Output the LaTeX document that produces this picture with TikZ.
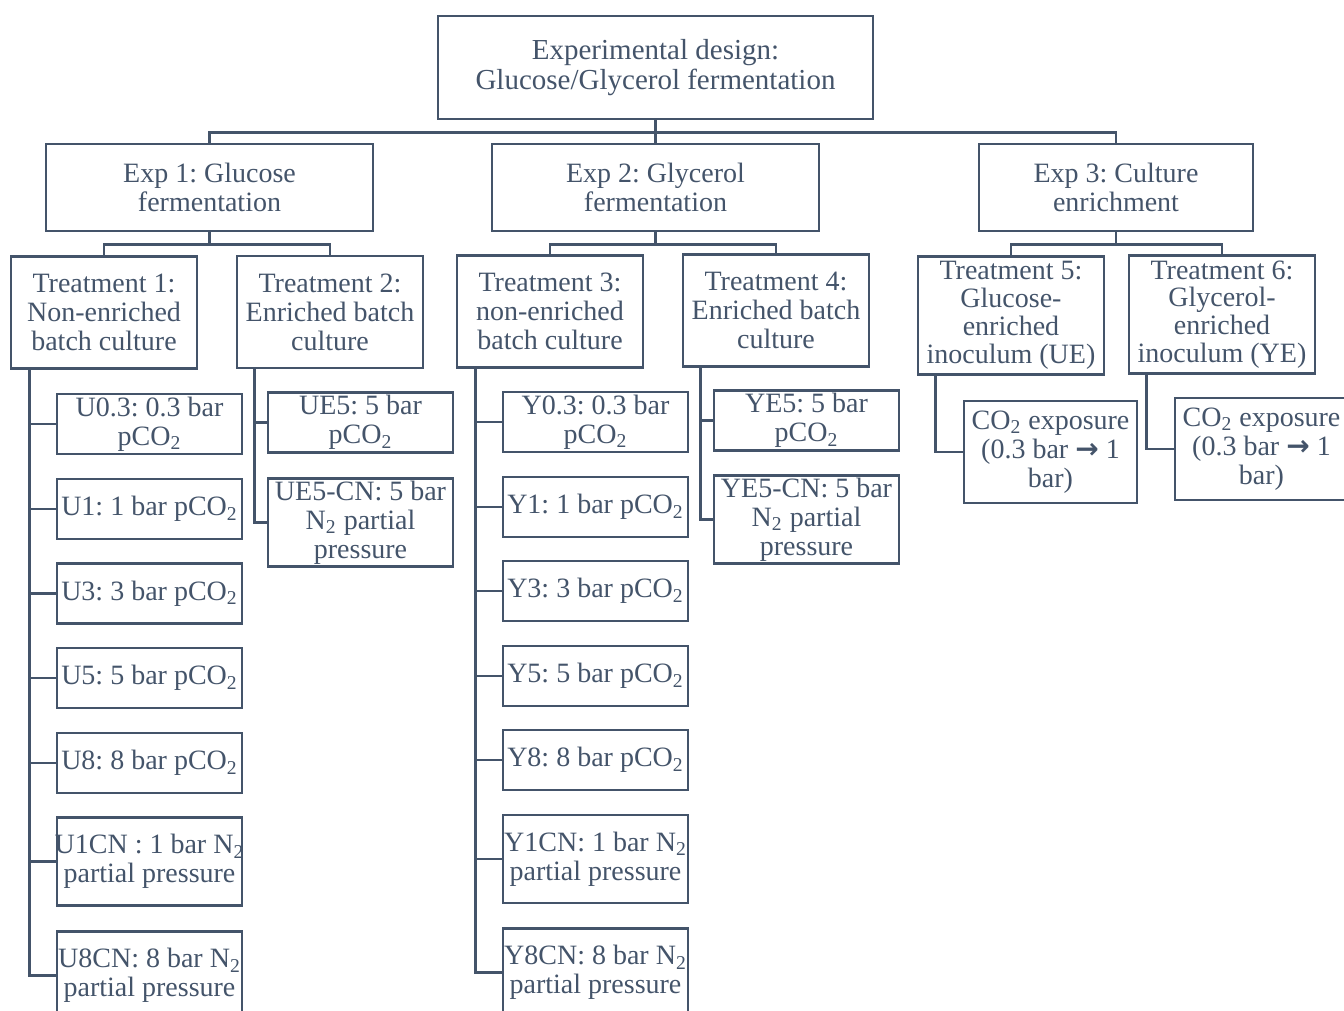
\documentclass[tikz,border=0pt]{standalone}
\usepackage{fontspec}
\setmainfont{Liberation Serif}
\newfontfamily\edarrowfont{DejaVu Sans}
\usepackage{tikz}
\usetikzlibrary{
  positioning,
  calc
}
\frenchspacing
\definecolor{edLine}{HTML}{44546A}
\newcommand{\sub}[1]{\textsubscript{#1}}
\newcommand{\edarrow}{{\edarrowfont\bfseries →}}
\tikzset{
  ednode/.style={
    draw=edLine, line width=1.4pt, text=edLine, align=center,
    inner xsep=-4pt, inner ysep=0pt,
    font=\fontsize{14pt}{14.5pt}\selectfont
  },
  topbox/.style={ednode, minimum width=217.5pt, minimum height=51.5pt,
    font=\fontsize{14.5pt}{15pt}\selectfont},
  expbox/.style={ednode, minimum width=163.5pt, minimum height=43.5pt},
  trtbox/.style={ednode, minimum width=93pt, minimum height=56pt},
  inocbox/.style={ednode, minimum width=93pt, minimum height=59pt, font=\fontsize{14pt}{13.9pt}\selectfont},
  leafbox/.style={ednode, minimum width=92.5pt, minimum height=30pt},
  leaftall/.style={ednode, minimum width=92.5pt, minimum height=44pt},
  expobox/.style={ednode, minimum width=86.5pt, minimum height=51pt},
  link/.style={draw=edLine, line width=1.4pt}
}
\begin{document}
\begin{tikzpicture}[x=0.5pt, y=-0.5pt]
  \useasboundingbox (0,0) rectangle (1344,1011);
  \clip (0,0) rectangle (1344,1011);

  \node[topbox] (design) at (655.5,67.5) {Experimental design:\\Glucose/Glycerol fermentation};

  \node[expbox] (exp1) at (209.5,187.5) {Exp 1: Glucose\\fermentation};
  \node[expbox] (exp2) at (655.5,187.5) {Exp 2: Glycerol\\fermentation};
  \node[expbox, minimum width=137pt] (exp3) at (1116,187.5) {Exp 3: Culture\\enrichment};

  \node[trtbox] (trt1) at (104,312.5) {Treatment 1:\\Non-enriched\\batch culture};
  \node[trtbox] (trt2) at (330,312) {Treatment 2:\\Enriched batch\\culture};
  \node[trtbox] (trt3) at (550,311.5) {Treatment 3:\\non-enriched\\batch culture};
  \node[trtbox] (trt4) at (776,310.5) {Treatment 4:\\Enriched batch\\culture};
  \node[inocbox] (trt5) at (1011,315.5) {Treatment 5:\\Glucose-\\enriched\\inoculum (UE)};
  \node[inocbox] (trt6) at (1222,314.5) {Treatment 6:\\Glycerol-\\enriched\\inoculum (YE)};

  \node[leafbox] (u03) at (149.5,424) {U0.3: 0.3 bar\\pCO\sub{2}};
  \node[leafbox] (u1) at (149.5,509) {U1: 1 bar pCO\sub{2}};
  \node[leafbox] (u3) at (149.5,593.5) {U3: 3 bar pCO\sub{2}};
  \node[leafbox] (u5) at (149.5,678) {U5: 5 bar pCO\sub{2}};
  \node[leafbox] (u8) at (149.5,763) {U8: 8 bar pCO\sub{2}};
  \node[leaftall] (u1cn) at (149.5,861.5) {U1CN : 1 bar N\sub{2}\\partial pressure};
  \node[leaftall] (u8cn) at (149.5,975.5) {U8CN: 8 bar N\sub{2}\\partial pressure};

  \node[leafbox] (ue5) at (360.5,422.5) {UE5: 5 bar\\pCO\sub{2}};
  \node[leaftall] (ue5cn) at (360.5,522.5) {UE5-CN: 5 bar\\N\sub{2} partial\\pressure};

  \node[leafbox] (y03) at (595.5,422) {Y0.3: 0.3 bar\\pCO\sub{2}};
  \node[leafbox] (y1) at (595.5,507) {Y1: 1 bar pCO\sub{2}};
  \node[leafbox] (y3) at (595.5,591) {Y3: 3 bar pCO\sub{2}};
  \node[leafbox] (y5) at (595.5,676) {Y5: 5 bar pCO\sub{2}};
  \node[leafbox] (y8) at (595.5,760) {Y8: 8 bar pCO\sub{2}};
  \node[leaftall] (y1cn) at (595.5,859) {Y1CN: 1 bar N\sub{2}\\partial pressure};
  \node[leaftall] (y8cn) at (595.5,972.5) {Y8CN: 8 bar N\sub{2}\\partial pressure};

  \node[leafbox] (ye5) at (806.5,420.5) {YE5: 5 bar\\pCO\sub{2}};
  \node[leaftall] (ye5cn) at (806.5,519.5) {YE5-CN: 5 bar\\N\sub{2} partial\\pressure};

  \node[expobox] (expo5) at (1050.5,452) {CO\sub{2} exposure\\(0.3 bar \edarrow{} 1\\bar)};
  \node[expobox] (expo6) at (1261.5,449) {CO\sub{2} exposure\\(0.3 bar \edarrow{} 1\\bar)};

  \draw[link] (design.south) -- ++(0,12) coordinate (bus0);
  \draw[link] (exp1.north) |- (bus0) -| (exp3.north);
  \draw[link] (bus0) -- (exp2.north);

  \foreach \exp/\left/\right in {exp1/trt1/trt2, exp2/trt3/trt4, exp3/trt5/trt6} {
    \draw[link] (\exp.south) -- ++(0,12) coordinate (bus-\exp);
    \draw[link] (\left.north) |- (bus-\exp) -| (\right.north);
  }

  \foreach \leaf in {u03,u1,u3,u5,u8,u1cn,u8cn}
    \draw[link] ([xshift=10pt]trt1.south west) |- (\leaf.west);
  \foreach \leaf in {ue5,ue5cn}
    \draw[link] ([xshift=9.5pt]trt2.south west) |- (\leaf.west);
  \foreach \leaf in {y03,y1,y3,y5,y8,y1cn,y8cn}
    \draw[link] ([xshift=10pt]trt3.south west) |- (\leaf.west);
  \foreach \leaf in {ye5,ye5cn}
    \draw[link] ([xshift=9.5pt]trt4.south west) |- (\leaf.west);
  \draw[link] ([xshift=9.5pt]trt5.south west) |- (expo5.west);
  \draw[link] ([xshift=9.5pt]trt6.south west) |- (expo6.west);
\end{tikzpicture}
\end{document}
